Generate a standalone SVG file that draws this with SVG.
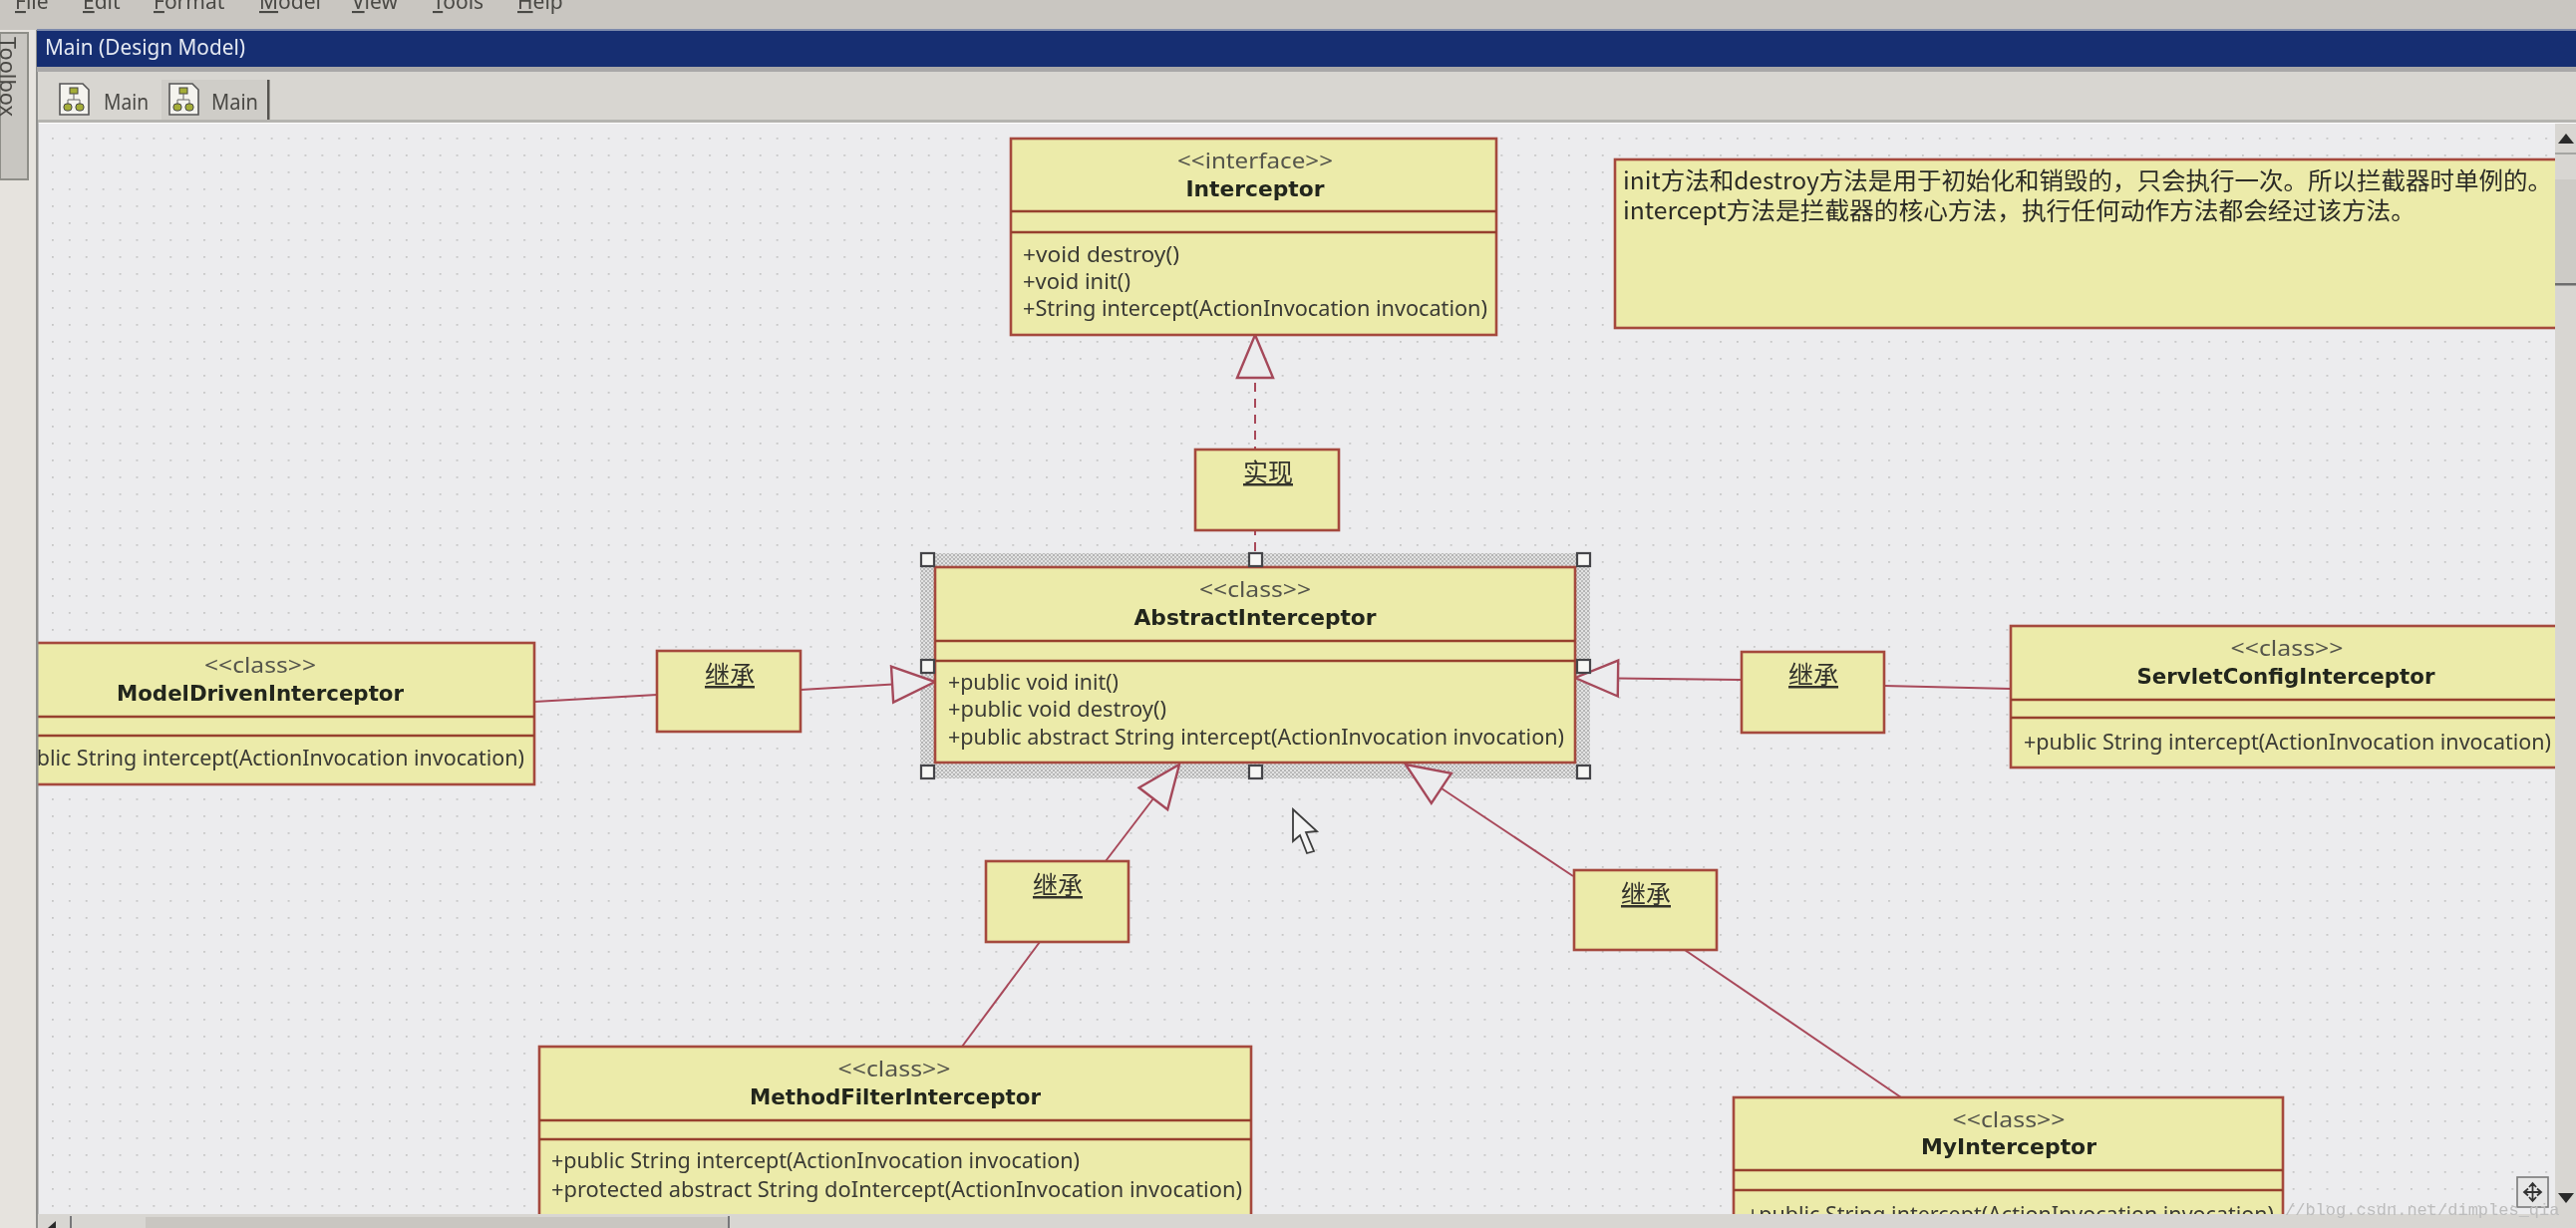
<svg xmlns="http://www.w3.org/2000/svg" width="2584" height="1232" viewBox="0 0 2584 1232">
<style>
text{font-family:"Noto Sans","Noto Sans CJK SC",sans-serif;fill:#3a3a34;font-size:21px}
.b{fill:#ecebaa;stroke:#a5483c;stroke-width:2.6}
.d{stroke:#96402f;stroke-width:2.6;fill:none}
.c{stroke:#a8485a;stroke-width:2;fill:none}
.dash{stroke-dasharray:9 7}
.st{text-anchor:middle;fill:#55554c}
.nm{text-anchor:middle;font-weight:700;font-size:22px;font-family:"DejaVu Sans",sans-serif;fill:#23261f}
.lb{text-anchor:middle;font-size:25px;font-family:"Noto Sans CJK SC",sans-serif;text-decoration:underline;fill:#33332c}
.note{font-size:24px;font-family:"Noto Sans CJK SC",sans-serif;fill:#2c2c26}
.h{fill:#f6f6f4;stroke:#45454a;stroke-width:2.2}
.ch{fill:#4a4844}
</style>
<defs>
<filter id="soft" x="0" y="0" width="100%" height="100%"><feGaussianBlur stdDeviation="0.55"/></filter>
<pattern id="dots" x="52" y="138" width="16.9" height="17" patternUnits="userSpaceOnUse"><rect width="1.8" height="1.8" fill="#c6c6c6"/></pattern>
<pattern id="hatch" width="4" height="4" patternUnits="userSpaceOnUse"><rect width="4" height="4" fill="#e2e2e2"/><rect width="2" height="2" fill="#b4b4b4"/><rect x="2" y="2" width="2" height="2" fill="#bcbcbc"/></pattern>
<marker id="tri" markerUnits="userSpaceOnUse" markerWidth="48" markerHeight="42" refX="45" refY="20" orient="auto"><path d="M2 2 L45 20 L2 38 Z" fill="#ececee" stroke="#a5485a" stroke-width="2.4"/></marker>
<symbol id="tabicon" viewBox="0 0 32 33" width="32" height="33"><path d="M1 1H24L30 7V32H1Z" fill="#f4f3ee" stroke="#555" stroke-width="1.6"/><rect x="11" y="5" width="8" height="6" fill="#a4ad38" stroke="#444"/><path d="M15 11V17M9 17H21M9 17V21M21 17V21" stroke="#666" fill="none"/><rect x="5" y="21" width="8" height="7" rx="3" fill="#a4ad38" stroke="#444"/><rect x="17" y="21" width="8" height="7" rx="3" fill="#a4ad38" stroke="#444"/></symbol>
</defs>
<g filter="url(#soft)">
<rect id="canvas" x="38" y="124" width="2546" height="1108" fill="#ececee"/>
<rect x="38" y="124" width="2546" height="1108" fill="url(#dots)"/>

<rect id="selection" x="923" y="555" width="672" height="226" fill="url(#hatch)"/>

<g id="connectors">
<path class="c" d="M536 704L659 697"/>
<path class="c" d="M803 692L938 684" marker-end="url(#tri)"/>
<path class="c" d="M2017 691L1890 688"/>
<path class="c" d="M1747 682L1580 680" marker-end="url(#tri)"/>
<path class="c" d="M965 1050L1043 945"/>
<path class="c" d="M1109 864L1183 767" marker-end="url(#tri)"/>
<path class="c" d="M1907 1101L1690 953"/>
<path class="c" d="M1578 879L1410 767" marker-end="url(#tri)"/>
<path class="c dash" d="M1259 553L1259 336" marker-end="url(#tri)"/>
</g>

<g id="node-interceptor">
<rect class="b" x="1014" y="139" width="487" height="197"/>
<path class="d" d="M1014 212H1501M1014 233H1501"/>
<text class="st" x="1259" y="169" textLength="156" lengthAdjust="spacingAndGlyphs">&lt;&lt;interface&gt;&gt;</text>
<text class="nm" x="1259" y="197" textLength="139" lengthAdjust="spacingAndGlyphs">Interceptor</text>
<text x="1026" y="263" textLength="157" lengthAdjust="spacingAndGlyphs">+void destroy()</text>
<text x="1026" y="290" textLength="108" lengthAdjust="spacingAndGlyphs">+void init()</text>
<text x="1026" y="317" textLength="466" lengthAdjust="spacingAndGlyphs">+String intercept(ActionInvocation invocation)</text>
</g>

<g id="node-note">
<rect class="b" x="1620" y="160" width="960" height="169"/>
<text class="note" x="1628" y="190" textLength="932" lengthAdjust="spacingAndGlyphs">init方法和destroy方法是用于初始化和销毁的，只会执行一次。所以拦截器时单例的。</text>
<text class="note" x="1628" y="220" textLength="795" lengthAdjust="spacingAndGlyphs">intercept方法是拦截器的核心方法，执行任何动作方法都会经过该方法。</text>
</g>

<g id="label-realize">
<rect class="b" x="1199" y="451" width="144" height="81"/>
<text class="lb" x="1272" y="483">实现</text>
</g>

<g id="node-abstract">
<rect class="b" x="938" y="569" width="642" height="196"/>
<path class="d" d="M938 643H1580M938 663H1580"/>
<text class="st" x="1259" y="599" textLength="112" lengthAdjust="spacingAndGlyphs">&lt;&lt;class&gt;&gt;</text>
<text class="nm" x="1259" y="627" textLength="243" lengthAdjust="spacingAndGlyphs">AbstractInterceptor</text>
<text x="951" y="692" textLength="171" lengthAdjust="spacingAndGlyphs">+public void init()</text>
<text x="951" y="719" textLength="219" lengthAdjust="spacingAndGlyphs">+public void destroy()</text>
<text x="951" y="747" textLength="618" lengthAdjust="spacingAndGlyphs">+public abstract String intercept(ActionInvocation invocation)</text>
<rect class="h" x="924" y="555" width="13" height="13"/><rect class="h" x="1253" y="555" width="13" height="13"/><rect class="h" x="1582" y="555" width="13" height="13"/>
<rect class="h" x="924" y="662" width="13" height="13"/><rect class="h" x="1582" y="662" width="13" height="13"/>
<rect class="h" x="924" y="768" width="13" height="13"/><rect class="h" x="1253" y="768" width="13" height="13"/><rect class="h" x="1582" y="768" width="13" height="13"/>
</g>

<g id="node-modeldriven">
<rect class="b" x="20" y="645" width="516" height="142"/>
<path class="d" d="M20 719H536M20 738H536"/>
<text class="st" x="261" y="675" textLength="112" lengthAdjust="spacingAndGlyphs">&lt;&lt;class&gt;&gt;</text>
<text class="nm" x="261" y="703" textLength="288" lengthAdjust="spacingAndGlyphs">ModelDrivenInterceptor</text>
<text x="-2" y="768" textLength="528" lengthAdjust="spacingAndGlyphs">+public String intercept(ActionInvocation invocation)</text>
</g>

<g id="label-inherit-left">
<rect class="b" x="659" y="653" width="144" height="81"/>
<text class="lb" x="732" y="686">继承</text>
</g>

<g id="label-inherit-right">
<rect class="b" x="1747" y="654" width="143" height="81"/>
<text class="lb" x="1819" y="686">继承</text>
</g>

<g id="node-servletconfig">
<rect class="b" x="2017" y="628" width="570" height="142"/>
<path class="d" d="M2017 702H2587M2017 720H2587"/>
<text class="st" x="2294" y="658" textLength="113" lengthAdjust="spacingAndGlyphs">&lt;&lt;class&gt;&gt;</text>
<text class="nm" x="2293" y="686" textLength="299" lengthAdjust="spacingAndGlyphs">ServletConfigInterceptor</text>
<text x="2030" y="752" textLength="529" lengthAdjust="spacingAndGlyphs">+public String intercept(ActionInvocation invocation)</text>
</g>

<g id="label-inherit-bottom-left">
<rect class="b" x="989" y="864" width="143" height="81"/>
<text class="lb" x="1061" y="897">继承</text>
</g>

<g id="label-inherit-bottom-right">
<rect class="b" x="1579" y="873" width="143" height="80"/>
<text class="lb" x="1651" y="906">继承</text>
</g>

<g id="node-methodfilter">
<rect class="b" x="541" y="1050" width="714" height="190"/>
<path class="d" d="M541 1124H1255M541 1143H1255"/>
<text class="st" x="897" y="1080" textLength="113" lengthAdjust="spacingAndGlyphs">&lt;&lt;class&gt;&gt;</text>
<text class="nm" x="898" y="1108" textLength="292" lengthAdjust="spacingAndGlyphs">MethodFilterInterceptor</text>
<text x="553" y="1172" textLength="530" lengthAdjust="spacingAndGlyphs">+public String intercept(ActionInvocation invocation)</text>
<text x="553" y="1201" textLength="693" lengthAdjust="spacingAndGlyphs">+protected abstract String doIntercept(ActionInvocation invocation)</text>
</g>

<g id="node-myinterceptor">
<rect class="b" x="1739" y="1101" width="551" height="150"/>
<path class="d" d="M1739 1174H2290M1739 1194H2290"/>
<text class="st" x="2015" y="1131" textLength="113" lengthAdjust="spacingAndGlyphs">&lt;&lt;class&gt;&gt;</text>
<text class="nm" x="2015" y="1158" textLength="176" lengthAdjust="spacingAndGlyphs">MyInterceptor</text>
<text x="1752" y="1226" textLength="529" lengthAdjust="spacingAndGlyphs">+public String intercept(ActionInvocation invocation)</text>
</g>

<path id="cursor" d="M1297 812L1321 834L1310 835L1318 854L1311 856L1304 838L1297 844Z" fill="#f4f4f4" stroke="#3d3d3d" stroke-width="1.8"/>

<g id="chrome">
<rect x="0" y="0" width="2584" height="30" fill="#c9c6c1"/>
<rect x="0" y="30" width="36" height="1202" fill="#e6e3de"/>
<rect x="36" y="30" width="2.5" height="1202" fill="#8f8f8d"/>
<rect x="0" y="33" width="28" height="147" fill="#c8c6c1" stroke="#8e8e88" stroke-width="2"/>
<text class="ch" transform="translate(0 37) rotate(90)" textLength="80" lengthAdjust="spacingAndGlyphs">Toolbox</text>
<rect x="37" y="29" width="2547" height="38" fill="#192f72"/>
<rect x="37" y="29" width="2547" height="2" fill="#7e8bac"/>
<rect x="37" y="67" width="2547" height="5" fill="#a9a8a8"/>
<text x="45" y="55" style="fill:#e4e9f2" textLength="201" lengthAdjust="spacingAndGlyphs">Main (Design Model)</text>
<rect x="38" y="72" width="2546" height="50" fill="#d8d6d1"/>
<rect x="38" y="120" width="2546" height="3" fill="#b5b4b0"/>
<rect x="162" y="80" width="107" height="40" fill="#cfcdc8"/>
<rect x="268" y="80" width="2.5" height="40" fill="#55534f"/>
<use href="#tabicon" x="59" y="83"/>
<text class="ch" x="104" y="110" textLength="45" lengthAdjust="spacingAndGlyphs">Main</text>
<use href="#tabicon" x="169" y="83"/>
<text class="ch" x="212" y="110" textLength="47" lengthAdjust="spacingAndGlyphs">Main</text>
<text x="15" y="9" class="ch"><tspan text-decoration="underline">F</tspan>ile</text>
<text x="83" y="9" class="ch"><tspan text-decoration="underline">E</tspan>dit</text>
<text x="154" y="9" class="ch"><tspan text-decoration="underline">F</tspan>ormat</text>
<text x="260" y="9" class="ch"><tspan text-decoration="underline">M</tspan>odel</text>
<text x="353" y="9" class="ch"><tspan text-decoration="underline">V</tspan>iew</text>
<text x="434" y="9" class="ch"><tspan text-decoration="underline">T</tspan>ools</text>
<text x="519" y="9" class="ch"><tspan text-decoration="underline">H</tspan>elp</text>
<rect x="2563" y="124" width="21" height="1108" fill="#d8d6d2"/>
<rect x="2563" y="180" width="21" height="104" fill="#cdcbc6"/>
<rect x="2563" y="284" width="21" height="2.5" fill="#6e6e6e"/>
<rect x="2563" y="153" width="21" height="2" fill="#a5a5a2"/>
<path d="M2566 144L2574 134L2582 144Z" fill="#2b2b2b"/>
<path d="M2566 1197L2574 1207L2582 1197Z" fill="#2b2b2b"/>
<rect x="38" y="1218" width="2546" height="14" fill="#d8d6d2"/>
<rect x="146" y="1221" width="585" height="11" fill="#c9c6c1"/>
<rect x="70" y="1220" width="2" height="12" fill="#77777a"/>
<rect x="730" y="1220" width="2" height="12" fill="#77777a"/>
<path d="M48 1232L56 1225V1232Z" fill="#2b2b2b"/>
<rect x="2525" y="1181" width="31" height="30" fill="#e6e6e6" stroke="#7a7a7a" stroke-width="1.6"/>
<path d="M2540.500 1188V1204M2532.500 1196H2548.500M2537 1191L2540.500 1187L2544 1191M2537 1201L2540.500 1205L2544 1201M2536 1192.500L2532 1196L2536 1199.500M2545 1192.500L2549 1196L2545 1199.500" fill="none" stroke="#333" stroke-width="1.8"/>
</g>
<text x="2292" y="1219" style="font-family:'Liberation Mono',monospace;font-size:17px;fill:#bcbcbc">//blog.csdn.net/dimples_qia</text>
</g>
</svg>
